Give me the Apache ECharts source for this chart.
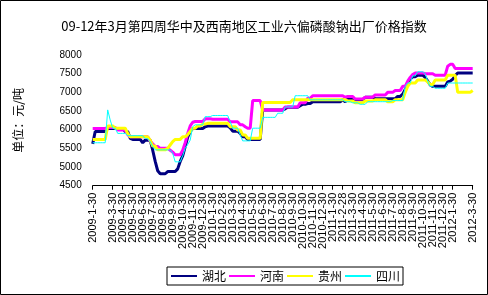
<!DOCTYPE html>
<html><head><meta charset="utf-8">
<script src="https://cdn.jsdelivr.net/npm/echarts@6/dist/echarts.min.js"></script>
<style>html,body{margin:0;padding:0;background:#fff}#c{width:488px;height:295px}</style>
</head><body><div id="c"></div>
<script>
const monthLabels = ['2009-1-30','2009-2-28','2009-3-30','2009-4-30','2009-5-30','2009-6-30','2009-7-30','2009-8-30','2009-9-30','2009-10-30','2009-11-30','2009-12-30',
'2010-1-30','2010-2-28','2010-3-30','2010-4-30','2010-5-30','2010-6-30','2010-7-30','2010-8-30','2010-9-30','2010-10-30','2010-11-30','2010-12-30',
'2011-1-30','2011-2-28','2011-3-30','2011-4-30','2011-5-30','2011-6-30','2011-7-30','2011-8-30','2011-9-30','2011-10-30','2011-11-30','2011-12-30',
'2012-1-30','2012-2-29','2012-3-30'];
const seriesNames = ['湖北','河南','贵州','四川'];
// weekly values, 4 per month
const hubei = [
5620,5950,5950,5950, 5950,5950,6030,6030, 6030,6030,6030,6030, 6030,5950,5950,5770,
5740,5740,5740,5740, 5650,5720,5720,5720, 5450,5150,4900,4820, 4820,4820,4880,4880,
4880,4880,4950,5150, 5300,5550,5800,5950, 6030,6030,6030,6030, 6030,6080,6100,6100,
6100,6100,6100,6100, 6100,6100,6100,6050, 5960,5960,5960,5900, 5810,5810,5740,5740,
5740,5740,5740,5740, 6530,6530,6530,6530, 6530,6530,6530,6530, 6530,6560,6600,6600,
6600,6600,6600,6640, 6680,6680,6700,6700, 6750,6750,6750,6750, 6750,6750,6750,6750,
6750,6750,6750,6750, 6800,6750,6820,6820, 6820,6800,6800,6800, 6800,6870,6870,6870,
6870,6830,6830,6830, 6830,6830,6830,6830, 6830,6830,6890,6890, 6950,7080,7250,7350,
7420,7420,7460,7460, 7460,7400,7300,7200, 7160,7160,7160,7160, 7160,7160,7280,7300,
7350,7450,7520,7520, 7520,7520,7520,7520, 7520];
const henan = [
6030,6030,6030,6030, 6030,6030,6060,6060, 6060,6060,5990,5990, 5990,5990,5870,5810,
5810,5810,5810,5810, 5810,5810,5810,5700, 5620,5550,5550,5500, 5500,5500,5500,5450,
5400,5330,5330,5330, 5450,5650,5900,6100, 6200,6220,6220,6220, 6220,6290,6290,6290,
6280,6280,6280,6280, 6280,6280,6280,6210, 6210,6210,6210,6130, 6130,6080,6040,6040,
6780,6780,6780,6780, 6530,6530,6530,6530, 6530,6530,6530,6530, 6530,6610,6610,6610,
6610,6610,6610,6720, 6720,6720,6840,6840, 6910,6910,6910,6910, 6910,6910,6910,6910,
6910,6910,6910,6910, 6910,6870,6890,6890, 6890,6820,6820,6820, 6820,6870,6870,6870,
6870,6930,6930,6930, 6930,6930,7000,7000, 7000,7050,7050,7050, 7160,7160,7300,7400,
7480,7520,7520,7520, 7520,7500,7500,7500, 7500,7460,7460,7460, 7460,7460,7700,7750,
7750,7640,7640,7640, 7640,7640,7640,7640, 7640];
const guizhou = [
5740,5740,5740,5740, 5740,5740,6100,6100, 6100,6040,6040,6040, 6040,6040,5900,5810,
5810,5810,5810,5810, 5810,5810,5810,5720, 5560,5560,5460,5460, 5460,5460,5500,5590,
5680,5740,5740,5740, 5810,5810,5870,5950, 6040,6040,6100,6100, 6150,6150,6170,6170,
6170,6170,6170,6170, 6170,6170,6170,6080, 6080,6080,5990,5990, 5860,5860,5770,5770,
5770,5770,5770,5770, 6730,6730,6730,6730, 6730,6730,6730,6730, 6730,6730,6730,6730,
6800,6800,6800,6800, 6800,6800,6800,6800, 6800,6800,6800,6800, 6800,6800,6800,6800,
6800,6800,6800,6800, 6800,6800,6770,6770, 6770,6720,6720,6720, 6720,6770,6770,6770,
6770,6800,6800,6800, 6800,6800,6750,6750, 6750,6800,6800,6800, 6800,7000,7160,7250,
7250,7250,7330,7330, 7330,7330,7280,7210, 7210,7330,7330,7330, 7330,7330,7460,7460,
7460,7460,7000,7000, 7000,7000,7000,7000, 7050];
const sichuan = [
5650,5650,5650,5650, 5650,5650,6530,6260, 6040,6040,5900,5900, 5900,5900,5840,5840,
5840,5840,5840,5840, 5840,5760,5760,5680, 5550,5460,5460,5460, 5460,5460,5460,5460,
5370,5140,5140,5140, 5300,5500,5600,5720, 6080,6130,6130,6130, 6130,6350,6350,6350,
6380,6380,6380,6380, 6380,6380,6380,6210, 6040,6040,6040,5860, 5700,5700,5700,5700,
6040,6040,6040,6040, 6330,6330,6330,6330, 6330,6330,6440,6440, 6440,6610,6610,6610,
6610,6910,6910,6910, 6910,6910,6910,6800, 6800,6800,6800,6800, 6800,6800,6800,6800,
6800,6800,6800,6800, 6800,6750,6750,6750, 6720,6720,6720,6680, 6680,6680,6750,6750,
6750,6750,6750,6750, 6750,6750,6750,6750, 6780,6780,6780,6780, 6780,7160,7250,7250,
7440,7440,7550,7550, 7550,7500,7300,7160, 7160,7110,7110,7110, 7110,7110,7250,7250,
7250,7250,7250,7250, 7250,7250,7250,7250, 7250];

const categories = [];
monthLabels.forEach((m, k) => {
  categories.push(m);
  if (k < monthLabels.length - 1) categories.push('', '', '');
});

const colors = ['#000080', '#FF00FF', '#FFFF00', '#00FFFF'];
const widths = [3, 3, 3, 1];
const datas = [hubei, henan, guizhou, sichuan];
const isMonth = (idx, val) => idx % 4 === 0;

const chart = echarts.init(document.getElementById('c'), null, {renderer: 'canvas'});
chart.setOption({
  animation: false,
  backgroundColor: '#fff',
  title: {
    text: '09-12年3月第四周华中及西南地区工业六偏磷酸钠出厂价格指数',
    left: 'center', top: 15,
    textStyle: {fontSize: 13, fontWeight: 'normal', color: '#000', fontFamily: 'Noto Sans CJK SC'}
  },
  graphic: [{type: 'rect', shape: {x: 0.5, y: 0.5, width: 487, height: 294},
    style: {fill: 'none', stroke: '#000', lineWidth: 1}, silent: true}],
  legend: {
    left: 167, top: 267, orient: 'horizontal',
    padding: [3, 3, 3, 3], itemGap: 2, itemWidth: 26, itemHeight: 12,
    borderColor: '#000', borderWidth: 1,
    itemStyle: {opacity: 0},
    textStyle: {fontSize: 12, color: '#000', fontFamily: 'Noto Sans CJK SC'},
    data: seriesNames
  },
  grid: {left: 92.7, right: 15.3, top: 55, bottom: 109.3, containLabel: false},
  xAxis: {
    type: 'category', data: categories, boundaryGap: false,
    axisLine: {show: true, lineStyle: {color: '#000', width: 1}},
    axisTick: {show: true, interval: isMonth, length: 4, lineStyle: {color: '#000'}},
    axisLabel: {interval: isMonth, hideOverlap: false, showMinLabel: true, showMaxLabel: true,
      rotate: 90, margin: 7, fontSize: 11, lineHeight: 10, color: '#000', fontFamily: 'Liberation Sans'},
    splitLine: {show: false}
  },
  yAxis: {
    type: 'value', min: 4500, max: 8000, interval: 500,
    name: '单位：元/吨', nameLocation: 'middle', nameRotate: 90, nameGap: 68,
    nameTextStyle: {fontSize: 12, color: '#000', fontFamily: 'Noto Sans CJK SC'},
    axisLine: {show: false}, axisTick: {show: false},
    axisLabel: {fontSize: 10, color: '#000', margin: 11, fontFamily: 'Liberation Sans',
      formatter: v => String(v)},
    splitLine: {show: false}
  },
  series: seriesNames.map((n, k) => ({
    name: n, type: 'line', data: datas[k], symbol: 'none', showSymbol: false,
    color: colors[k], lineStyle: {width: widths[k], color: colors[k]},
    itemStyle: {color: colors[k]}
  }))
});
</script></body></html>
